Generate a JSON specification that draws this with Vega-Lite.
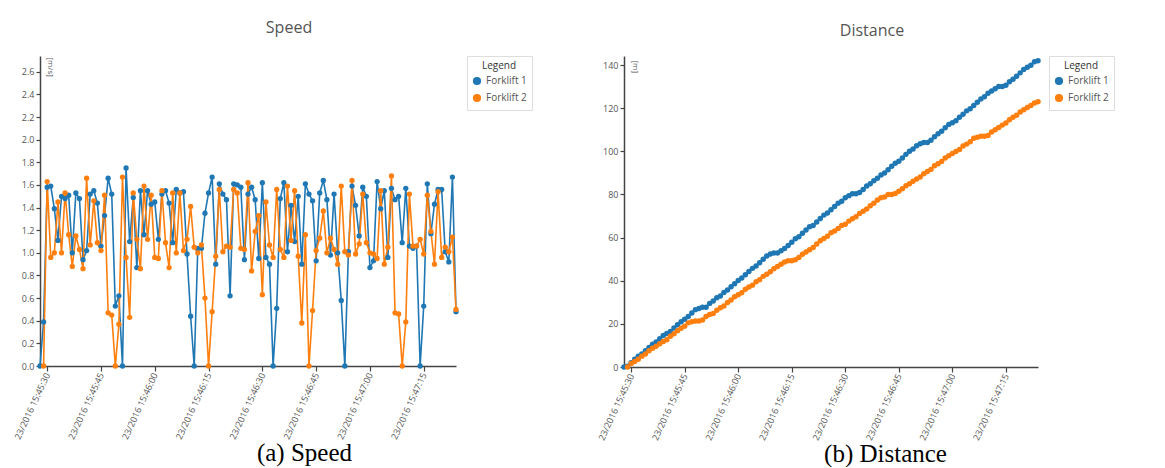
{
"$schema": "https://vega.github.io/schema/vega-lite/v6.json",
"background": "white",
"padding": {"left": 13, "top": 19, "right": 0, "bottom": 0},
"spacing": 64,
"config": {
 "font": "Open Sans",
 "view": {"stroke": null},
 "axis": {"labelFont": "Open Sans", "labelFontSize": 9, "labelColor": "#555", "domainColor": "#444", "tickColor": "#444", "domainWidth": 1.5, "tickWidth": 1.2, "grid": false, "labelOverlap": false, "labelFlush": false},
 "title": {"font": "Open Sans", "fontSize": 16, "fontWeight": "normal", "color": "#555"},
 "legend": {"titleFont": "Open Sans", "titleFontSize": 10, "titleFontWeight": "normal", "titleColor": "#333", "titleAnchor": "middle", "labelFont": "Open Sans", "labelFontSize": 10, "labelColor": "#555", "symbolType": "circle", "symbolSize": 45, "strokeColor": "#ddd", "padding": 5, "rowPadding": 3, "offset": 7}
},
"data": {"values": [
{"t":"2016-12-23T15:45:28","f":"Forklift 1","s":0,"d":0},
{"t":"2016-12-23T15:45:29","f":"Forklift 1","s":0.39,"d":0.39},
{"t":"2016-12-23T15:45:30","f":"Forklift 1","s":1.58,"d":1.97},
{"t":"2016-12-23T15:45:31","f":"Forklift 1","s":1.59,"d":3.56},
{"t":"2016-12-23T15:45:32","f":"Forklift 1","s":1.39,"d":4.95},
{"t":"2016-12-23T15:45:33","f":"Forklift 1","s":1.11,"d":6.06},
{"t":"2016-12-23T15:45:34","f":"Forklift 1","s":1.5,"d":7.56},
{"t":"2016-12-23T15:45:35","f":"Forklift 1","s":1.48,"d":9.04},
{"t":"2016-12-23T15:45:36","f":"Forklift 1","s":1.51,"d":10.55},
{"t":"2016-12-23T15:45:37","f":"Forklift 1","s":1.0,"d":11.55},
{"t":"2016-12-23T15:45:38","f":"Forklift 1","s":1.53,"d":13.08},
{"t":"2016-12-23T15:45:39","f":"Forklift 1","s":1.48,"d":14.56},
{"t":"2016-12-23T15:45:40","f":"Forklift 1","s":0.94,"d":15.5},
{"t":"2016-12-23T15:45:41","f":"Forklift 1","s":1.02,"d":16.52},
{"t":"2016-12-23T15:45:42","f":"Forklift 1","s":1.52,"d":18.04},
{"t":"2016-12-23T15:45:43","f":"Forklift 1","s":1.55,"d":19.59},
{"t":"2016-12-23T15:45:44","f":"Forklift 1","s":1.44,"d":21.03},
{"t":"2016-12-23T15:45:45","f":"Forklift 1","s":1.06,"d":22.09},
{"t":"2016-12-23T15:45:46","f":"Forklift 1","s":1.33,"d":23.42},
{"t":"2016-12-23T15:45:47","f":"Forklift 1","s":1.66,"d":25.08},
{"t":"2016-12-23T15:45:48","f":"Forklift 1","s":1.52,"d":26.6},
{"t":"2016-12-23T15:45:49","f":"Forklift 1","s":0.53,"d":27.13},
{"t":"2016-12-23T15:45:50","f":"Forklift 1","s":0.62,"d":27.75},
{"t":"2016-12-23T15:45:51","f":"Forklift 1","s":0,"d":27.75},
{"t":"2016-12-23T15:45:52","f":"Forklift 1","s":1.75,"d":29.5},
{"t":"2016-12-23T15:45:53","f":"Forklift 1","s":1.1,"d":30.6},
{"t":"2016-12-23T15:45:54","f":"Forklift 1","s":1.49,"d":32.09},
{"t":"2016-12-23T15:45:55","f":"Forklift 1","s":0.87,"d":32.96},
{"t":"2016-12-23T15:45:56","f":"Forklift 1","s":1.55,"d":34.51},
{"t":"2016-12-23T15:45:57","f":"Forklift 1","s":1.16,"d":35.67},
{"t":"2016-12-23T15:45:58","f":"Forklift 1","s":1.55,"d":37.22},
{"t":"2016-12-23T15:45:59","f":"Forklift 1","s":1.43,"d":38.65},
{"t":"2016-12-23T15:46:00","f":"Forklift 1","s":1.45,"d":40.1},
{"t":"2016-12-23T15:46:01","f":"Forklift 1","s":1.12,"d":41.22},
{"t":"2016-12-23T15:46:02","f":"Forklift 1","s":1.52,"d":42.74},
{"t":"2016-12-23T15:46:03","f":"Forklift 1","s":1.55,"d":44.29},
{"t":"2016-12-23T15:46:04","f":"Forklift 1","s":1.44,"d":45.73},
{"t":"2016-12-23T15:46:05","f":"Forklift 1","s":1.09,"d":46.82},
{"t":"2016-12-23T15:46:06","f":"Forklift 1","s":1.56,"d":48.38},
{"t":"2016-12-23T15:46:07","f":"Forklift 1","s":1.53,"d":49.91},
{"t":"2016-12-23T15:46:08","f":"Forklift 1","s":1.54,"d":51.45},
{"t":"2016-12-23T15:46:09","f":"Forklift 1","s":0.99,"d":52.44},
{"t":"2016-12-23T15:46:10","f":"Forklift 1","s":0.44,"d":52.88},
{"t":"2016-12-23T15:46:11","f":"Forklift 1","s":0,"d":52.88},
{"t":"2016-12-23T15:46:12","f":"Forklift 1","s":1.04,"d":53.92},
{"t":"2016-12-23T15:46:13","f":"Forklift 1","s":1.04,"d":54.96},
{"t":"2016-12-23T15:46:14","f":"Forklift 1","s":1.35,"d":56.31},
{"t":"2016-12-23T15:46:15","f":"Forklift 1","s":1.53,"d":57.84},
{"t":"2016-12-23T15:46:16","f":"Forklift 1","s":1.67,"d":59.51},
{"t":"2016-12-23T15:46:17","f":"Forklift 1","s":0.9,"d":60.41},
{"t":"2016-12-23T15:46:18","f":"Forklift 1","s":1.61,"d":62.02},
{"t":"2016-12-23T15:46:19","f":"Forklift 1","s":1.52,"d":63.54},
{"t":"2016-12-23T15:46:20","f":"Forklift 1","s":1.47,"d":65.01},
{"t":"2016-12-23T15:46:21","f":"Forklift 1","s":0.62,"d":65.63},
{"t":"2016-12-23T15:46:22","f":"Forklift 1","s":1.61,"d":67.24},
{"t":"2016-12-23T15:46:23","f":"Forklift 1","s":1.6,"d":68.84},
{"t":"2016-12-23T15:46:24","f":"Forklift 1","s":1.58,"d":70.42},
{"t":"2016-12-23T15:46:25","f":"Forklift 1","s":0.94,"d":71.36},
{"t":"2016-12-23T15:46:26","f":"Forklift 1","s":1.52,"d":72.88},
{"t":"2016-12-23T15:46:27","f":"Forklift 1","s":1.58,"d":74.46},
{"t":"2016-12-23T15:46:28","f":"Forklift 1","s":1.47,"d":75.93},
{"t":"2016-12-23T15:46:29","f":"Forklift 1","s":0.95,"d":76.88},
{"t":"2016-12-23T15:46:30","f":"Forklift 1","s":1.62,"d":78.5},
{"t":"2016-12-23T15:46:31","f":"Forklift 1","s":0.96,"d":79.46},
{"t":"2016-12-23T15:46:32","f":"Forklift 1","s":0.9,"d":80.36},
{"t":"2016-12-23T15:46:33","f":"Forklift 1","s":0,"d":80.36},
{"t":"2016-12-23T15:46:34","f":"Forklift 1","s":0.51,"d":80.87},
{"t":"2016-12-23T15:46:35","f":"Forklift 1","s":1.48,"d":82.35},
{"t":"2016-12-23T15:46:36","f":"Forklift 1","s":1.62,"d":83.97},
{"t":"2016-12-23T15:46:37","f":"Forklift 1","s":1.01,"d":84.98},
{"t":"2016-12-23T15:46:38","f":"Forklift 1","s":1.42,"d":86.4},
{"t":"2016-12-23T15:46:39","f":"Forklift 1","s":1.1,"d":87.5},
{"t":"2016-12-23T15:46:40","f":"Forklift 1","s":1.5,"d":89.0},
{"t":"2016-12-23T15:46:41","f":"Forklift 1","s":0.9,"d":89.9},
{"t":"2016-12-23T15:46:42","f":"Forklift 1","s":1.61,"d":91.51},
{"t":"2016-12-23T15:46:43","f":"Forklift 1","s":1.52,"d":93.03},
{"t":"2016-12-23T15:46:44","f":"Forklift 1","s":1.46,"d":94.49},
{"t":"2016-12-23T15:46:45","f":"Forklift 1","s":0.93,"d":95.42},
{"t":"2016-12-23T15:46:46","f":"Forklift 1","s":1.53,"d":96.95},
{"t":"2016-12-23T15:46:47","f":"Forklift 1","s":1.64,"d":98.59},
{"t":"2016-12-23T15:46:48","f":"Forklift 1","s":1.47,"d":100.06},
{"t":"2016-12-23T15:46:49","f":"Forklift 1","s":0.98,"d":101.04},
{"t":"2016-12-23T15:46:50","f":"Forklift 1","s":1.52,"d":102.56},
{"t":"2016-12-23T15:46:51","f":"Forklift 1","s":1.0,"d":103.56},
{"t":"2016-12-23T15:46:52","f":"Forklift 1","s":0.58,"d":104.14},
{"t":"2016-12-23T15:46:53","f":"Forklift 1","s":0,"d":104.14},
{"t":"2016-12-23T15:46:54","f":"Forklift 1","s":1.01,"d":105.15},
{"t":"2016-12-23T15:46:55","f":"Forklift 1","s":1.59,"d":106.74},
{"t":"2016-12-23T15:46:56","f":"Forklift 1","s":1.42,"d":108.16},
{"t":"2016-12-23T15:46:57","f":"Forklift 1","s":1.15,"d":109.31},
{"t":"2016-12-23T15:46:58","f":"Forklift 1","s":1.58,"d":110.89},
{"t":"2016-12-23T15:46:59","f":"Forklift 1","s":1.5,"d":112.39},
{"t":"2016-12-23T15:47:00","f":"Forklift 1","s":0.87,"d":113.26},
{"t":"2016-12-23T15:47:01","f":"Forklift 1","s":0.93,"d":114.19},
{"t":"2016-12-23T15:47:02","f":"Forklift 1","s":1.63,"d":115.82},
{"t":"2016-12-23T15:47:03","f":"Forklift 1","s":1.39,"d":117.21},
{"t":"2016-12-23T15:47:04","f":"Forklift 1","s":1.55,"d":118.76},
{"t":"2016-12-23T15:47:05","f":"Forklift 1","s":0.96,"d":119.72},
{"t":"2016-12-23T15:47:06","f":"Forklift 1","s":1.57,"d":121.29},
{"t":"2016-12-23T15:47:07","f":"Forklift 1","s":1.47,"d":122.76},
{"t":"2016-12-23T15:47:08","f":"Forklift 1","s":1.5,"d":124.26},
{"t":"2016-12-23T15:47:09","f":"Forklift 1","s":1.09,"d":125.35},
{"t":"2016-12-23T15:47:10","f":"Forklift 1","s":1.57,"d":126.92},
{"t":"2016-12-23T15:47:11","f":"Forklift 1","s":1.06,"d":127.98},
{"t":"2016-12-23T15:47:12","f":"Forklift 1","s":1.04,"d":129.02},
{"t":"2016-12-23T15:47:13","f":"Forklift 1","s":1.06,"d":130.08},
{"t":"2016-12-23T15:47:14","f":"Forklift 1","s":0,"d":130.08},
{"t":"2016-12-23T15:47:15","f":"Forklift 1","s":0.53,"d":130.61},
{"t":"2016-12-23T15:47:16","f":"Forklift 1","s":1.61,"d":132.22},
{"t":"2016-12-23T15:47:17","f":"Forklift 1","s":1.17,"d":133.39},
{"t":"2016-12-23T15:47:18","f":"Forklift 1","s":1.43,"d":134.82},
{"t":"2016-12-23T15:47:19","f":"Forklift 1","s":1.56,"d":136.38},
{"t":"2016-12-23T15:47:20","f":"Forklift 1","s":1.56,"d":137.94},
{"t":"2016-12-23T15:47:21","f":"Forklift 1","s":1.01,"d":138.95},
{"t":"2016-12-23T15:47:22","f":"Forklift 1","s":0.92,"d":139.87},
{"t":"2016-12-23T15:47:23","f":"Forklift 1","s":1.67,"d":141.54},
{"t":"2016-12-23T15:47:24","f":"Forklift 1","s":0.48,"d":142.02},
{"t":"2016-12-23T15:45:29","f":"Forklift 2","s":0,"d":0},
{"t":"2016-12-23T15:45:30","f":"Forklift 2","s":1.63,"d":1.63},
{"t":"2016-12-23T15:45:31","f":"Forklift 2","s":0.96,"d":2.59},
{"t":"2016-12-23T15:45:32","f":"Forklift 2","s":1.0,"d":3.59},
{"t":"2016-12-23T15:45:33","f":"Forklift 2","s":1.45,"d":5.04},
{"t":"2016-12-23T15:45:34","f":"Forklift 2","s":1.0,"d":6.04},
{"t":"2016-12-23T15:45:35","f":"Forklift 2","s":1.53,"d":7.57},
{"t":"2016-12-23T15:45:36","f":"Forklift 2","s":1.16,"d":8.73},
{"t":"2016-12-23T15:45:37","f":"Forklift 2","s":0.88,"d":9.61},
{"t":"2016-12-23T15:45:38","f":"Forklift 2","s":1.15,"d":10.76},
{"t":"2016-12-23T15:45:39","f":"Forklift 2","s":1.03,"d":11.79},
{"t":"2016-12-23T15:45:40","f":"Forklift 2","s":0.86,"d":12.65},
{"t":"2016-12-23T15:45:41","f":"Forklift 2","s":1.66,"d":14.31},
{"t":"2016-12-23T15:45:42","f":"Forklift 2","s":1.07,"d":15.38},
{"t":"2016-12-23T15:45:43","f":"Forklift 2","s":1.46,"d":16.84},
{"t":"2016-12-23T15:45:44","f":"Forklift 2","s":1.09,"d":17.93},
{"t":"2016-12-23T15:45:45","f":"Forklift 2","s":1.02,"d":18.95},
{"t":"2016-12-23T15:45:46","f":"Forklift 2","s":1.51,"d":20.46},
{"t":"2016-12-23T15:45:47","f":"Forklift 2","s":0.47,"d":20.93},
{"t":"2016-12-23T15:45:48","f":"Forklift 2","s":0.45,"d":21.38},
{"t":"2016-12-23T15:45:49","f":"Forklift 2","s":0,"d":21.38},
{"t":"2016-12-23T15:45:50","f":"Forklift 2","s":0.37,"d":21.75},
{"t":"2016-12-23T15:45:51","f":"Forklift 2","s":1.67,"d":23.42},
{"t":"2016-12-23T15:45:52","f":"Forklift 2","s":0.96,"d":24.38},
{"t":"2016-12-23T15:45:53","f":"Forklift 2","s":0.43,"d":24.81},
{"t":"2016-12-23T15:45:54","f":"Forklift 2","s":1.53,"d":26.34},
{"t":"2016-12-23T15:45:55","f":"Forklift 2","s":1.12,"d":27.46},
{"t":"2016-12-23T15:45:56","f":"Forklift 2","s":0.86,"d":28.32},
{"t":"2016-12-23T15:45:57","f":"Forklift 2","s":1.59,"d":29.91},
{"t":"2016-12-23T15:45:58","f":"Forklift 2","s":1.12,"d":31.03},
{"t":"2016-12-23T15:45:59","f":"Forklift 2","s":1.51,"d":32.54},
{"t":"2016-12-23T15:46:00","f":"Forklift 2","s":0.96,"d":33.5},
{"t":"2016-12-23T15:46:01","f":"Forklift 2","s":0.95,"d":34.45},
{"t":"2016-12-23T15:46:02","f":"Forklift 2","s":1.55,"d":36.0},
{"t":"2016-12-23T15:46:03","f":"Forklift 2","s":1.09,"d":37.09},
{"t":"2016-12-23T15:46:04","f":"Forklift 2","s":0.87,"d":37.96},
{"t":"2016-12-23T15:46:05","f":"Forklift 2","s":1.53,"d":39.49},
{"t":"2016-12-23T15:46:06","f":"Forklift 2","s":1.0,"d":40.49},
{"t":"2016-12-23T15:46:07","f":"Forklift 2","s":1.53,"d":42.02},
{"t":"2016-12-23T15:46:08","f":"Forklift 2","s":1.02,"d":43.04},
{"t":"2016-12-23T15:46:09","f":"Forklift 2","s":1.12,"d":44.16},
{"t":"2016-12-23T15:46:10","f":"Forklift 2","s":1.41,"d":45.57},
{"t":"2016-12-23T15:46:11","f":"Forklift 2","s":1.05,"d":46.62},
{"t":"2016-12-23T15:46:12","f":"Forklift 2","s":1.0,"d":47.62},
{"t":"2016-12-23T15:46:13","f":"Forklift 2","s":1.07,"d":48.69},
{"t":"2016-12-23T15:46:14","f":"Forklift 2","s":0.6,"d":49.29},
{"t":"2016-12-23T15:46:15","f":"Forklift 2","s":0,"d":49.29},
{"t":"2016-12-23T15:46:16","f":"Forklift 2","s":0.48,"d":49.77},
{"t":"2016-12-23T15:46:17","f":"Forklift 2","s":0.97,"d":50.74},
{"t":"2016-12-23T15:46:18","f":"Forklift 2","s":1.56,"d":52.3},
{"t":"2016-12-23T15:46:19","f":"Forklift 2","s":1.01,"d":53.31},
{"t":"2016-12-23T15:46:20","f":"Forklift 2","s":1.06,"d":54.37},
{"t":"2016-12-23T15:46:21","f":"Forklift 2","s":1.05,"d":55.42},
{"t":"2016-12-23T15:46:22","f":"Forklift 2","s":1.56,"d":56.98},
{"t":"2016-12-23T15:46:23","f":"Forklift 2","s":1.53,"d":58.51},
{"t":"2016-12-23T15:46:24","f":"Forklift 2","s":1.04,"d":59.55},
{"t":"2016-12-23T15:46:25","f":"Forklift 2","s":1.03,"d":60.58},
{"t":"2016-12-23T15:46:26","f":"Forklift 2","s":1.62,"d":62.2},
{"t":"2016-12-23T15:46:27","f":"Forklift 2","s":0.84,"d":63.04},
{"t":"2016-12-23T15:46:28","f":"Forklift 2","s":1.19,"d":64.23},
{"t":"2016-12-23T15:46:29","f":"Forklift 2","s":1.33,"d":65.56},
{"t":"2016-12-23T15:46:30","f":"Forklift 2","s":0.63,"d":66.19},
{"t":"2016-12-23T15:46:31","f":"Forklift 2","s":1.45,"d":67.64},
{"t":"2016-12-23T15:46:32","f":"Forklift 2","s":1.07,"d":68.71},
{"t":"2016-12-23T15:46:33","f":"Forklift 2","s":0.96,"d":69.67},
{"t":"2016-12-23T15:46:34","f":"Forklift 2","s":1.56,"d":71.23},
{"t":"2016-12-23T15:46:35","f":"Forklift 2","s":1.03,"d":72.26},
{"t":"2016-12-23T15:46:36","f":"Forklift 2","s":0.96,"d":73.22},
{"t":"2016-12-23T15:46:37","f":"Forklift 2","s":1.59,"d":74.81},
{"t":"2016-12-23T15:46:38","f":"Forklift 2","s":1.11,"d":75.92},
{"t":"2016-12-23T15:46:39","f":"Forklift 2","s":1.55,"d":77.47},
{"t":"2016-12-23T15:46:40","f":"Forklift 2","s":0.97,"d":78.44},
{"t":"2016-12-23T15:46:41","f":"Forklift 2","s":0.38,"d":78.82},
{"t":"2016-12-23T15:46:42","f":"Forklift 2","s":1.16,"d":79.98},
{"t":"2016-12-23T15:46:43","f":"Forklift 2","s":0,"d":79.98},
{"t":"2016-12-23T15:46:44","f":"Forklift 2","s":0.49,"d":80.47},
{"t":"2016-12-23T15:46:45","f":"Forklift 2","s":1.02,"d":81.49},
{"t":"2016-12-23T15:46:46","f":"Forklift 2","s":1.13,"d":82.62},
{"t":"2016-12-23T15:46:47","f":"Forklift 2","s":1.37,"d":83.99},
{"t":"2016-12-23T15:46:48","f":"Forklift 2","s":1.0,"d":84.99},
{"t":"2016-12-23T15:46:49","f":"Forklift 2","s":1.13,"d":86.12},
{"t":"2016-12-23T15:46:50","f":"Forklift 2","s":1.03,"d":87.15},
{"t":"2016-12-23T15:46:51","f":"Forklift 2","s":0.9,"d":88.05},
{"t":"2016-12-23T15:46:52","f":"Forklift 2","s":1.59,"d":89.64},
{"t":"2016-12-23T15:46:53","f":"Forklift 2","s":1.01,"d":90.65},
{"t":"2016-12-23T15:46:54","f":"Forklift 2","s":0.98,"d":91.63},
{"t":"2016-12-23T15:46:55","f":"Forklift 2","s":1.64,"d":93.27},
{"t":"2016-12-23T15:46:56","f":"Forklift 2","s":0.99,"d":94.26},
{"t":"2016-12-23T15:46:57","f":"Forklift 2","s":1.08,"d":95.34},
{"t":"2016-12-23T15:46:58","f":"Forklift 2","s":1.52,"d":96.86},
{"t":"2016-12-23T15:46:59","f":"Forklift 2","s":1.09,"d":97.95},
{"t":"2016-12-23T15:47:00","f":"Forklift 2","s":1.0,"d":98.95},
{"t":"2016-12-23T15:47:01","f":"Forklift 2","s":0.99,"d":99.94},
{"t":"2016-12-23T15:47:02","f":"Forklift 2","s":0.95,"d":100.89},
{"t":"2016-12-23T15:47:03","f":"Forklift 2","s":1.55,"d":102.44},
{"t":"2016-12-23T15:47:04","f":"Forklift 2","s":0.9,"d":103.34},
{"t":"2016-12-23T15:47:05","f":"Forklift 2","s":1.05,"d":104.39},
{"t":"2016-12-23T15:47:06","f":"Forklift 2","s":1.68,"d":106.07},
{"t":"2016-12-23T15:47:07","f":"Forklift 2","s":0.47,"d":106.54},
{"t":"2016-12-23T15:47:08","f":"Forklift 2","s":0.46,"d":107.0},
{"t":"2016-12-23T15:47:09","f":"Forklift 2","s":0,"d":107.0},
{"t":"2016-12-23T15:47:10","f":"Forklift 2","s":0.39,"d":107.39},
{"t":"2016-12-23T15:47:11","f":"Forklift 2","s":1.52,"d":108.91},
{"t":"2016-12-23T15:47:12","f":"Forklift 2","s":1.06,"d":109.97},
{"t":"2016-12-23T15:47:13","f":"Forklift 2","s":1.06,"d":111.03},
{"t":"2016-12-23T15:47:14","f":"Forklift 2","s":1.12,"d":112.15},
{"t":"2016-12-23T15:47:15","f":"Forklift 2","s":0.99,"d":113.14},
{"t":"2016-12-23T15:47:16","f":"Forklift 2","s":1.51,"d":114.65},
{"t":"2016-12-23T15:47:17","f":"Forklift 2","s":1.19,"d":115.84},
{"t":"2016-12-23T15:47:18","f":"Forklift 2","s":0.9,"d":116.74},
{"t":"2016-12-23T15:47:19","f":"Forklift 2","s":1.54,"d":118.28},
{"t":"2016-12-23T15:47:20","f":"Forklift 2","s":0.96,"d":119.24},
{"t":"2016-12-23T15:47:21","f":"Forklift 2","s":1.05,"d":120.29},
{"t":"2016-12-23T15:47:22","f":"Forklift 2","s":1.01,"d":121.3},
{"t":"2016-12-23T15:47:23","f":"Forklift 2","s":1.14,"d":122.44},
{"t":"2016-12-23T15:47:24","f":"Forklift 2","s":0.5,"d":122.94}
]},
"hconcat": [
 {
  "width": 416, "height": 310,
  "title": {"text": "Speed", "anchor": "middle", "offset": 20, "dx": 41},
  "mark": {"type": "line", "strokeWidth": 1.6, "point": {"filled": true, "size": 28, "opacity": 1}},
  "encoding": {
   "x": {"field": "t", "type": "temporal", "scale": {"nice": false},
    "axis": {"format": "%d/%Y %H:%M:%S", "labelAngle": -65, "tickSize": 5, "labelPadding": 2,
     "title": "(a) Speed", "titleFont": "Liberation Serif", "titleFontSize": 25, "titleFontWeight": "normal", "titleColor": "#000", "titlePadding": 0, "titleX": 264}},
   "y": {"field": "s", "type": "quantitative", "scale": {"domain": [0, 2.74], "nice": false},
    "axis": {"format": ".1f", "tickCount": 14, "tickSize": 4, "labelPadding": 2,
     "title": "[m/s]", "titleFont": "Open Sans", "titleFontSize": 8, "titleFontWeight": "normal", "titleColor": "#555",
     "titleAngle": 90, "titleX": 9, "titleY": 1, "titleAlign": "left", "titleBaseline": "middle"}},
   "color": {"field": "f", "type": "nominal", "scale": {"domain": ["Forklift 1", "Forklift 2"], "range": ["#1f77b4", "#ff7f0e"]}, "legend": {"title": "Legend"}}
  }
 },
 {
  "width": 414, "height": 311,
  "title": {"text": "Distance", "anchor": "middle", "offset": 17, "dx": 41},
  "mark": {"type": "line", "strokeWidth": 1.8, "point": {"filled": true, "size": 30, "opacity": 1}},
  "encoding": {
   "x": {"field": "t", "type": "temporal", "scale": {"nice": false},
    "axis": {"format": "%d/%Y %H:%M:%S", "labelAngle": -65, "tickSize": 5, "labelPadding": 2,
     "title": "(b) Distance", "titleFont": "Liberation Serif", "titleFontSize": 25, "titleFontWeight": "normal", "titleColor": "#000", "titlePadding": 0, "titleX": 261}},
   "y": {"field": "d", "type": "quantitative", "scale": {"domain": [0, 144.2], "nice": false},
    "axis": {"tickCount": 8, "tickSize": 4, "labelPadding": 2,
     "title": "[m]", "titleFont": "Open Sans", "titleFontSize": 8, "titleFontWeight": "normal", "titleColor": "#555",
     "titleAngle": 90, "titleX": 10, "titleY": 4, "titleAlign": "left", "titleBaseline": "middle"}},
   "color": {"field": "f", "type": "nominal", "scale": {"domain": ["Forklift 1", "Forklift 2"], "range": ["#1f77b4", "#ff7f0e"]}, "legend": {"title": "Legend"}}
  }
 }
],
"resolve": {"scale": {"color": "independent"}, "legend": {"color": "independent"}}
}
